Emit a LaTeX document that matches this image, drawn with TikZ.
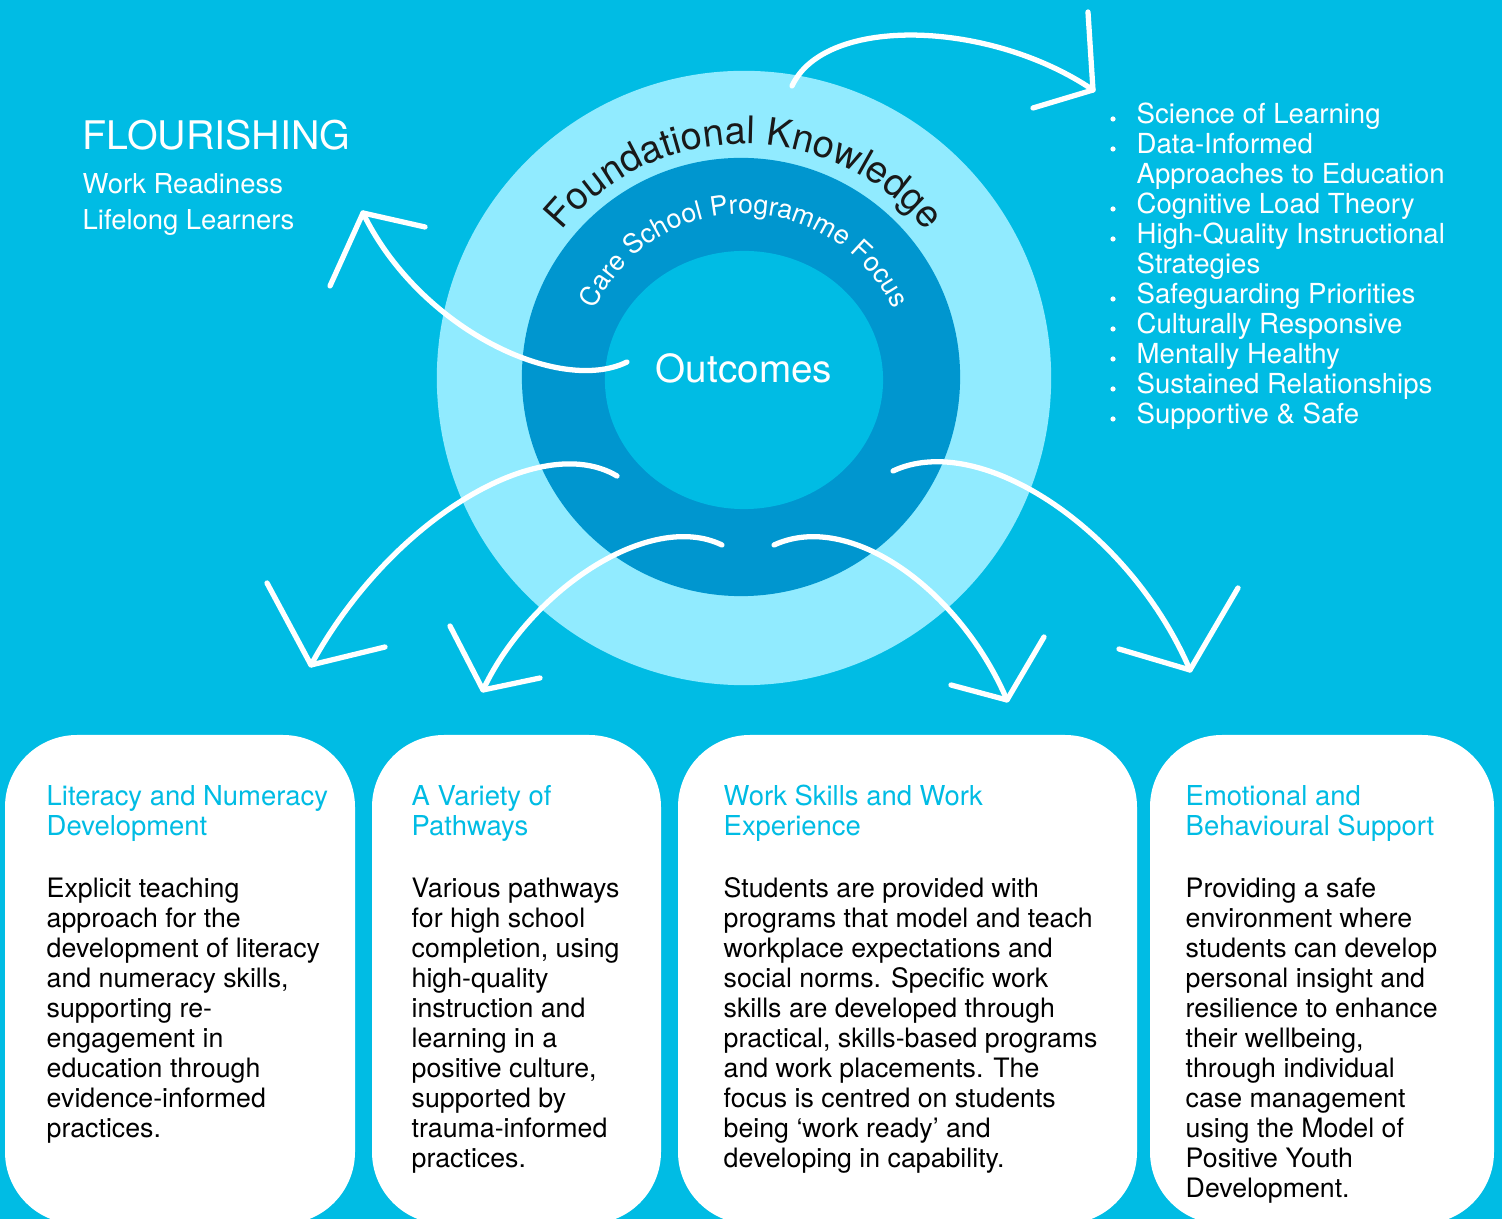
\documentclass[tikz,border=0pt]{standalone}
\usepackage{fontspec}
\setmainfont{TeX Gyre Heros}
\usetikzlibrary{decorations.text}
\definecolor{skyBg}{RGB}{0,188,228}
\definecolor{ringLight}{RGB}{145,235,255}
\definecolor{ringMid}{RGB}{0,150,207}
\definecolor{inkDark}{RGB}{25,25,25}
\newcommand{\drawBarbs}[3]{
   	\draw[arrowline] (#1) -- (#2) -- (#3);
}
\tikzset{
  arrowline/.style={white, line width=1.5pt, line cap=round, line join=round},
  card/.style={fill=white, rounded corners=0.72cm},
  cardhead/.style={anchor=base west, inner sep=0pt, align=left, text=skyBg, font=\fontsize{7.8}{8.54}\selectfont},
  cardbody/.style={anchor=base west, inner sep=0pt, align=left, text=black, font=\fontsize{7.6}{8.54}\selectfont},
}
\begin{document}
\begin{tikzpicture}[x=0.01cm, y=0.01cm]
%%%%%%%%%%%%%%%%%%

%Background
	\useasboundingbox (0,0) rectangle (1502,-1219);
	\fill[skyBg] (0,0) rectangle (1502,-1219);
	\clip (0,0) rectangle (1502,-1219);

%Rings
	\fill[ringLight] (744,-378) circle (3.07cm);
	\fill[ringMid] (741,-377) circle (2.19cm);
	\fill[skyBg] (744,-380) ellipse (1.39cm and 1.29cm);

%Curved texts
	\path[decoration={text along path, text align=center, text color=inkDark,
		text={|\fontsize{10.8}{12}\selectfont|Foundational Knowledge}}, decorate]
		(744,-378) ++(150:2.34cm) arc (150:30:2.34cm);
	\path[decoration={text along path, text align=center, text color=white,
		text={|\fontsize{7.6}{9}\selectfont|Care School Programme Focus}}, decorate]
		(744,-378) ++(165:1.64cm) arc (165:15:1.64cm);
	\node[text=white, font=\fontsize{11}{13}\selectfont, inner sep=0pt] (outcomes) at (744,-368) {Outcomes};

%Flourishing
	\node[anchor=base west, inner sep=0pt, text=white, font=\fontsize{11.2}{13}\selectfont] (flourish) at (82,-150) {FLOURISHING};
	% base = last line
	\node[anchor=base west, inner sep=0pt, align=left, text=white, font=\fontsize{7.8}{10.24}\selectfont] (flourishlist) at (82,-230) {Work Readiness\\Lifelong Learners};

%Knowledge list
	\node[anchor=base west, inner sep=0pt, align=left, text=white, font=\fontsize{7.85}{8.54}\selectfont] (knowlist) at (1136,-424)
	{Science of Learning\\Data-Informed\\Approaches to Education\\Cognitive Load Theory\\High-Quality Instructional\\Strategies\\Safeguarding Priorities\\Culturally Responsive\\Mentally Healthy\\Sustained Relationships\\Supportive \& Safe};
	\foreach \y in {115,145,205,235,295,325,355,385,415}
	{
		\fill[white] (1113,-\y-4) circle (0.026cm);
	}

%Cards
	\fill[card] (5,-735) rectangle (355,-1224);
	\fill[card] (372,-735) rectangle (661,-1224);
	\fill[card] (678,-735) rectangle (1137,-1224);
	\fill[card] (1150,-735) rectangle (1494,-1224);

	\node[cardhead] (head1) at (46,-836) {Literacy and Numeracy\\Development};
	\node[cardbody] (body1) at (46,-1138) {Explicit teaching\\approach for the\\development of literacy\\and numeracy skills,\\supporting re-\\engagement in\\education through\\evidence-informed\\practices.};

	\node[cardhead] (head2) at (411,-836) {A Variety of\\Pathways};
	\node[cardbody] (body2) at (411,-1168) {Various pathways\\for high school\\completion, using\\high-quality\\instruction and\\learning in a\\positive culture,\\supported by\\trauma-informed\\practices.};

	\node[cardhead] (head3) at (723,-836) {Work Skills and Work\\Experience};
	\node[cardbody] (body3) at (723,-1168) {Students are provided with\\programs that model and teach\\workplace expectations and\\social norms. Specific work\\skills are developed through\\practical, skills-based programs\\and work placements. The\\focus is centred on students\\being ‘work ready’ and\\developing in capability.};

	\node[cardhead] (head4) at (1185,-836) {Emotional and\\Behavioural Support};
	\node[cardbody] (body4) at (1185,-1198) {Providing a safe\\environment where\\students can develop\\personal insight and\\resilience to enhance\\their wellbeing,\\through individual\\case management\\using the Model of\\Positive Youth\\Development.};

%Arrow points
	\coordinate (topS) at (792,-86);   \coordinate (topT) at (1093,-90);
	\coordinate (topA) at (1088,-12);  \coordinate (topB) at (1033,-108);
	\coordinate (leftS) at (627,-362); \coordinate (leftT) at (363,-213);
	\coordinate (leftA) at (330,-286); \coordinate (leftB) at (425,-227);
	\coordinate (aS) at (617,-476);    \coordinate (aT) at (311,-665);
	\coordinate (aA) at (267,-583);    \coordinate (aB) at (385,-647);
	\coordinate (bS) at (722,-545);    \coordinate (bT) at (483,-690);
	\coordinate (bA) at (450,-626);    \coordinate (bB) at (540,-678);
	\coordinate (cS) at (774,-545);    \coordinate (cT) at (1007,-700);
	\coordinate (cA) at (951,-685);    \coordinate (cB) at (1044,-637);
	\coordinate (dS) at (893,-471);    \coordinate (dT) at (1190,-670);
	\coordinate (dA) at (1119,-649);   \coordinate (dB) at (1238,-588);

%Arrows
	\draw[arrowline] (topS) .. controls (825,-15) and (990,-20) .. (topT);
	\drawBarbs{topA}{topT}{topB}
	\draw[arrowline] (leftS) .. controls (560,-395) and (420,-330) .. (leftT);
	\drawBarbs{leftA}{leftT}{leftB}
	\draw[arrowline] (aS) .. controls (540,-430) and (390,-520) .. (aT);
	\drawBarbs{aA}{aT}{aB}
	\draw[arrowline] (bS) .. controls (650,-510) and (530,-590) .. (bT);
	\drawBarbs{bA}{bT}{bB}
	\draw[arrowline] (cS) .. controls (850,-510) and (960,-590) .. (cT);
	\drawBarbs{cA}{cT}{cB}
	\draw[arrowline] (dS) .. controls (980,-430) and (1130,-530) .. (dT);
	\drawBarbs{dA}{dT}{dB}

\end{tikzpicture}
\end{document}
